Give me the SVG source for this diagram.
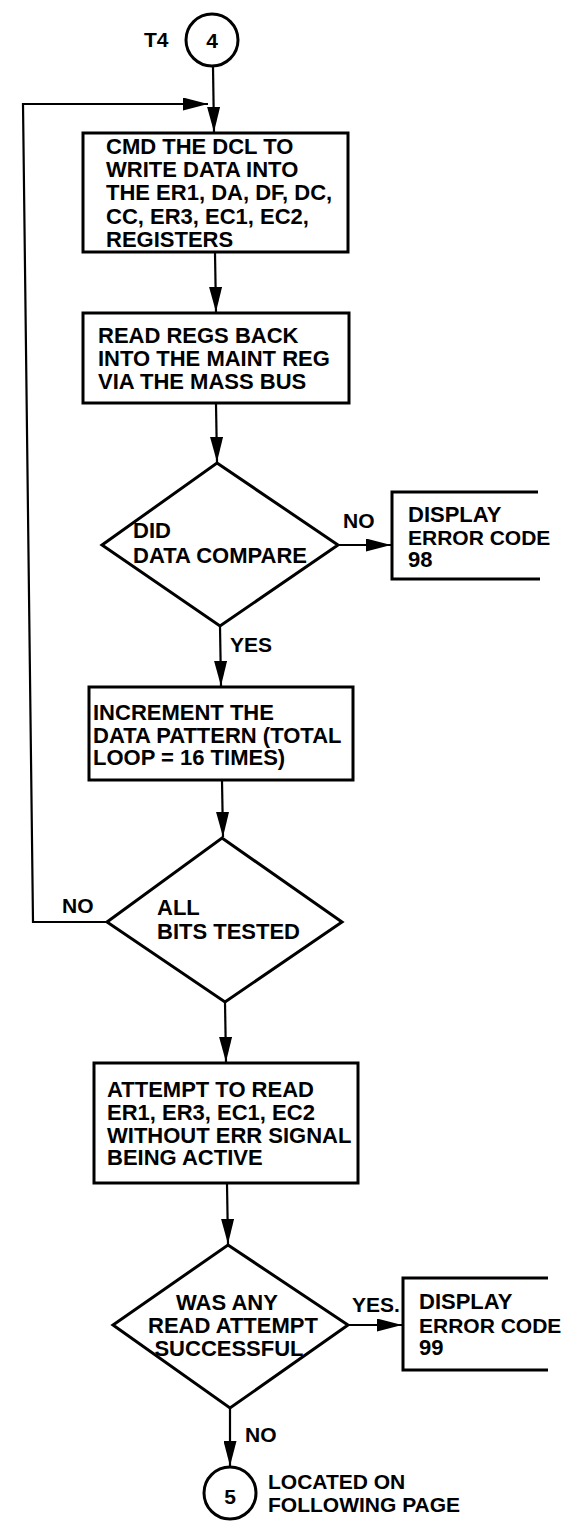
<svg xmlns="http://www.w3.org/2000/svg" width="566" height="1522" viewBox="0 0 566 1522">
<style>
.shape{fill:#fff;stroke:#000;stroke-width:3}
.open{fill:none;stroke:#000;stroke-width:3}
.conn{fill:none;stroke:#000;stroke-width:2.2}
.t{font-family:"Liberation Sans",Arial,sans-serif;font-weight:bold;font-size:22px;fill:#000}
.l{font-family:"Liberation Sans",Arial,sans-serif;font-weight:bold;font-size:21px;fill:#000}
.m{text-anchor:middle}
</style>
<defs>
<marker id="arr" markerUnits="userSpaceOnUse" markerWidth="26" markerHeight="13" refX="25" refY="6.5" orient="auto">
<path d="M0,0 L25,6.5 L0,13 z" fill="#000"/>
</marker>
</defs>
<rect width="566" height="1522" fill="#fff"/>
<g id="connectors">
<line class="conn" x1="213" y1="67" x2="214" y2="132" marker-end="url(#arr)"/>
<polyline class="conn" points="107,922 33,922 23,104 208,104" marker-end="url(#arr)"/>
<line class="conn" x1="215" y1="253" x2="216" y2="312" marker-end="url(#arr)"/>
<line class="conn" x1="216" y1="404" x2="217" y2="462" marker-end="url(#arr)"/>
<line class="conn" x1="338" y1="545" x2="391" y2="545" marker-end="url(#arr)"/>
<line class="conn" x1="220" y1="626" x2="221" y2="686" marker-end="url(#arr)"/>
<line class="conn" x1="222" y1="781" x2="223" y2="837" marker-end="url(#arr)"/>
<line class="conn" x1="225" y1="1002" x2="226" y2="1062" marker-end="url(#arr)"/>
<line class="conn" x1="227" y1="1184" x2="228" y2="1244" marker-end="url(#arr)"/>
<line class="conn" x1="348" y1="1325" x2="402" y2="1325" marker-end="url(#arr)"/>
<line class="conn" x1="230" y1="1408" x2="230" y2="1466" marker-end="url(#arr)"/>
<text class="l" x="343" y="528">NO</text>
<text class="l" x="230" y="652">YES</text>
<text class="l" x="62" y="913">NO</text>
<text class="l" x="352" y="1312">YES.</text>
<text class="l" x="245" y="1442">NO</text>
</g>
<g id="start">
<circle class="shape" cx="212" cy="40" r="26"/>
<text class="l m" x="212" y="48">4</text>
<text class="l" x="144" y="47">T4</text>
</g>
<g id="write">
<rect class="shape" x="83" y="133" width="265" height="119"/>
<text class="t" x="106" y="154">CMD THE DCL TO</text>
<text class="t" x="106" y="177">WRITE DATA INTO</text>
<text class="t" x="106" y="200">THE ER1, DA, DF, DC,</text>
<text class="t" x="106" y="224">CC, ER3, EC1, EC2,</text>
<text class="t" x="106" y="247">REGISTERS</text>
</g>
<g id="readback">
<rect class="shape" x="83" y="313" width="266" height="90"/>
<text class="t" x="98" y="343">READ REGS BACK</text>
<text class="t" x="98" y="366">INTO THE MAINT REG</text>
<text class="t" x="98" y="389">VIA THE MASS BUS</text>
</g>
<g id="compare">
<polygon class="shape" points="217,463 338,545 220,626 102,545"/>
<text class="t" x="133" y="538">DID</text>
<text class="t" x="133" y="563">DATA COMPARE</text>
</g>
<g id="err98">
<path class="open" d="M538,492 H392 V579 H540"/>
<text class="t" x="408" y="522">DISPLAY</text>
<text class="t" x="408" y="545" style="font-size:21px">ERROR CODE</text>
<text class="t" x="408" y="567">98</text>
</g>
<g id="increment">
<rect class="shape" x="89" y="687" width="264" height="93"/>
<text class="t" x="93" y="720">INCREMENT THE</text>
<text class="t" x="93" y="743">DATA PATTERN (TOTAL</text>
<text class="t" x="93" y="765">LOOP = 16 TIMES)</text>
</g>
<g id="alltested">
<polygon class="shape" points="222,838 342,922 225,1002 107,922"/>
<text class="t" x="157" y="915">ALL</text>
<text class="t" x="157" y="939">BITS TESTED</text>
</g>
<g id="attempt">
<rect class="shape" x="94" y="1063" width="264" height="120"/>
<text class="t" x="107" y="1097">ATTEMPT TO READ</text>
<text class="t" x="107" y="1120">ER1, ER3, EC1, EC2</text>
<text class="t" x="107" y="1143">WITHOUT ERR SIGNAL</text>
<text class="t" x="107" y="1165">BEING ACTIVE</text>
</g>
<g id="success">
<polygon class="shape" points="228,1245 348,1325 230,1408 113,1325"/>
<text class="t m" x="227" y="1310">WAS ANY</text>
<text class="t m" x="233" y="1333">READ ATTEMPT</text>
<text class="t m" x="229" y="1356">SUCCESSFUL</text>
</g>
<g id="err99">
<path class="open" d="M548,1278 H403 V1370 H548"/>
<text class="t" x="419" y="1309">DISPLAY</text>
<text class="t" x="419" y="1333" style="font-size:21px">ERROR CODE</text>
<text class="t" x="419" y="1355">99</text>
</g>
<g id="end">
<circle class="shape" cx="230" cy="1493" r="26"/>
<text class="l m" x="230" y="1504">5</text>
<text class="l" x="268" y="1489">LOCATED ON</text>
<text class="l" x="268" y="1512">FOLLOWING PAGE</text>
</g>
</svg>
